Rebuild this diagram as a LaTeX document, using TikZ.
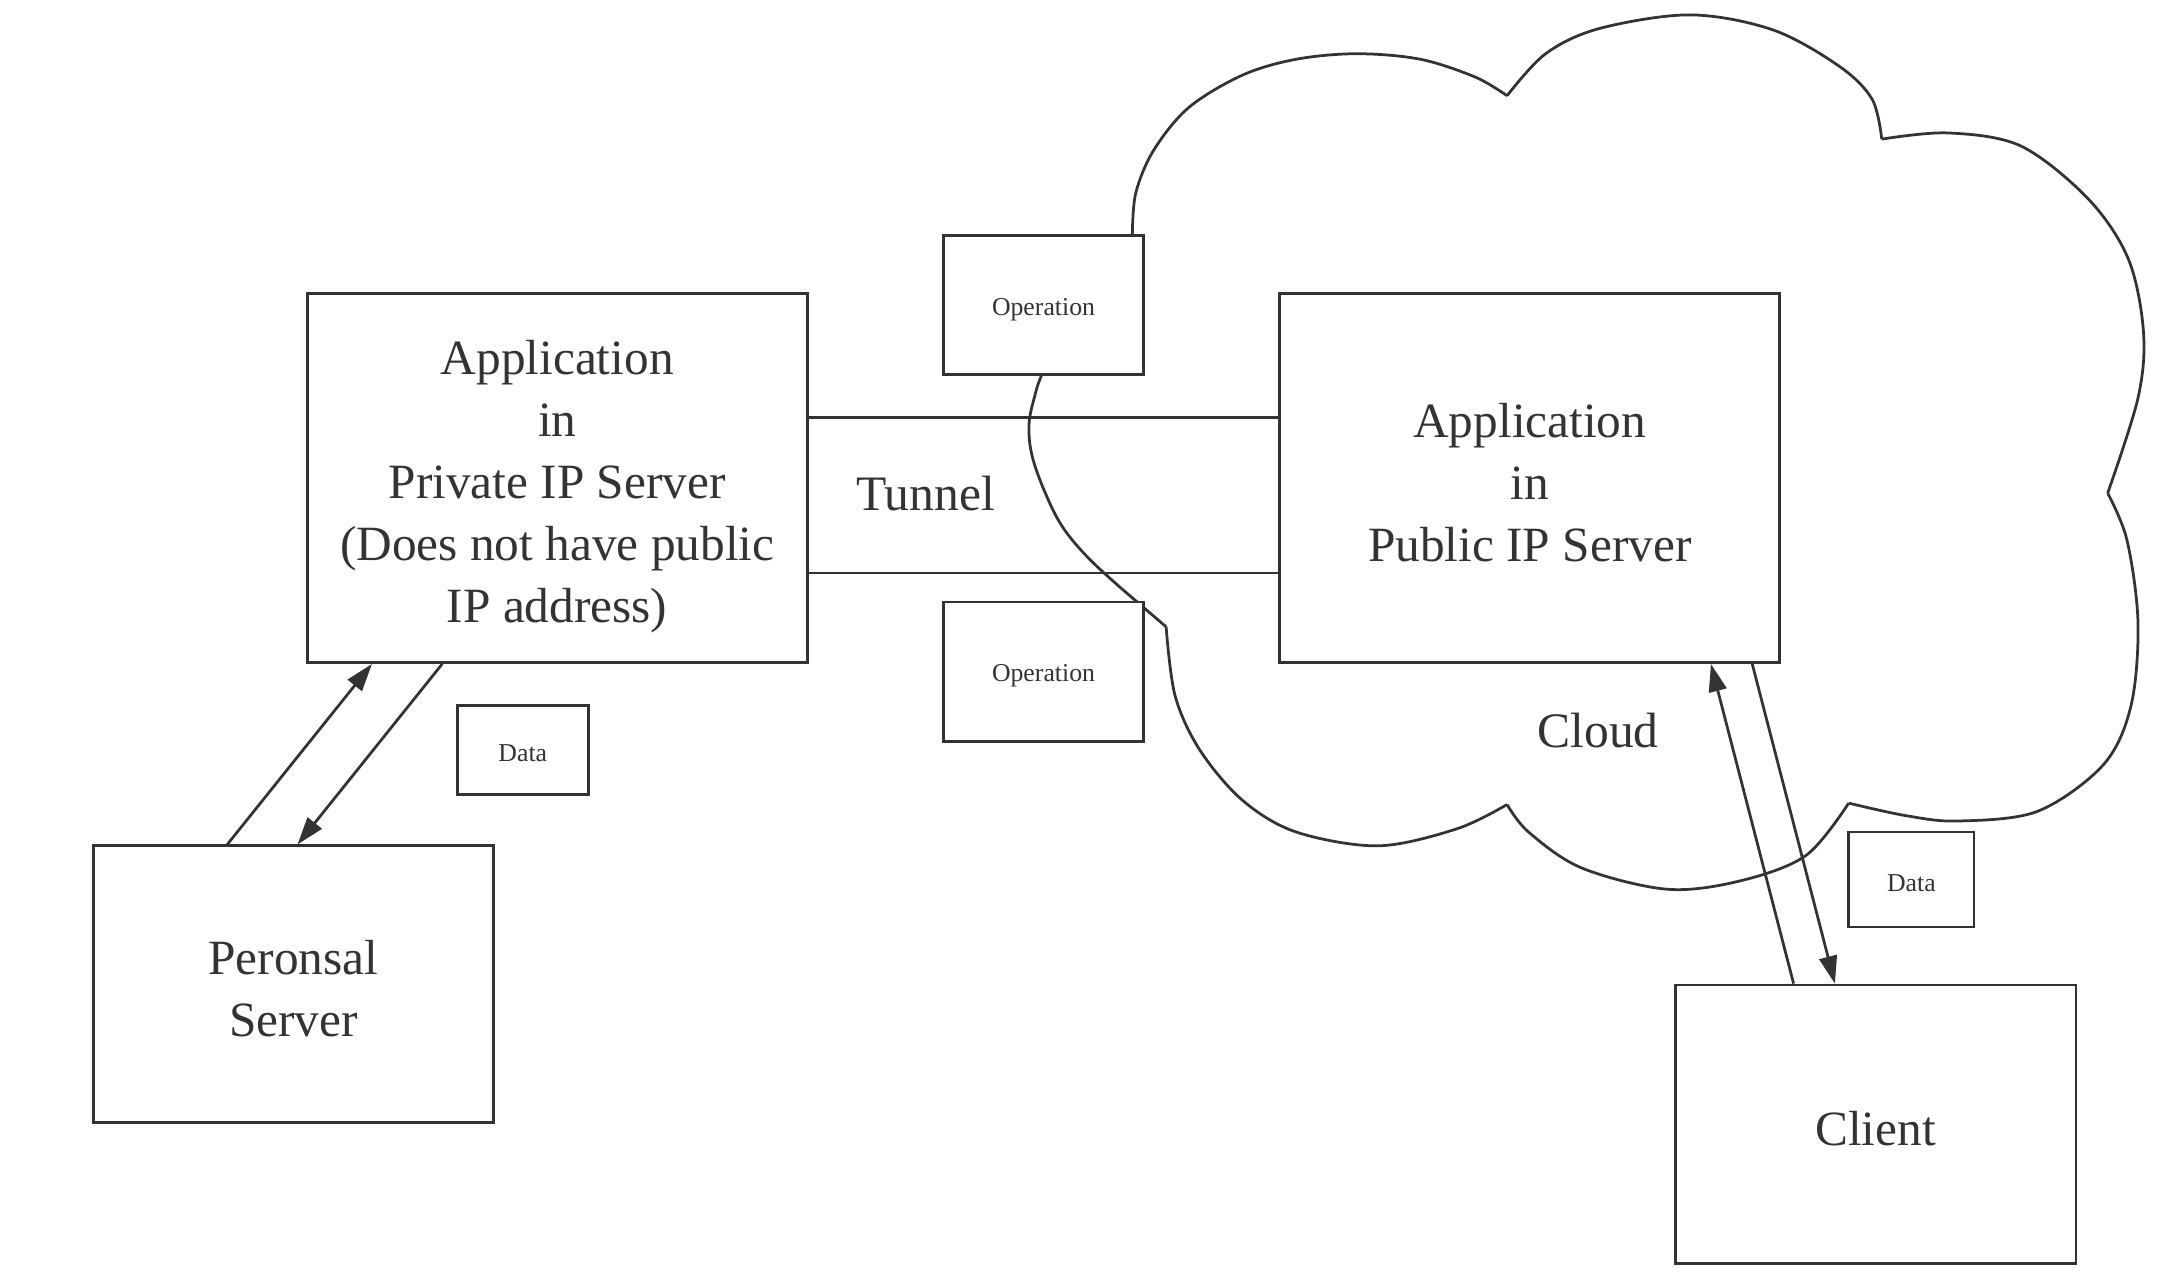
\documentclass[tikz,border=0pt]{standalone}
\usepackage{fontspec}
\setmainfont{Liberation Serif}
\usetikzlibrary{arrows.meta}
\definecolor{ink}{HTML}{333333}
\newcommand{\Sp}[1]{\rule{0pt}{#1}}
\begin{document}
\begin{tikzpicture}[x=1pt,y=-1pt,
  box/.style={draw=ink,line width=2pt,fill=white,align=center,inner sep=0pt,text=ink,font=\fontsize{35.8}{45}\selectfont},
  small/.style={box,font=\fontsize{18.7}{22}\selectfont},
  lbl/.style={text=ink,font=\fontsize{36}{45}\selectfont,inner sep=0pt},
  link/.style={draw=ink,line width=2pt},
  arr/.style={link,-{Triangle[length=20pt,width=13pt]}}]
\useasboundingbox[fill=white] (0,0) rectangle (1568,925);
% cloud
\begin{scope}[link,line join=round]
\draw plot[smooth,tension=0.55] coordinates {(822,170)(824.5,140)(837.5,109)(863,78)(902,54.5)(941,43)(985,39)(1031,43)(1071,56)(1094,69.5)};
\draw plot[smooth,tension=0.55] coordinates {(1094,69.5)(1122,39)(1161,20.7)(1227,10.8)(1287,21.7)(1335,48)(1359,72)(1366,101)};
\draw plot[smooth,tension=0.55] coordinates {(1366,101)(1414,96.5)(1467,106)(1516,144.5)(1545,188)(1556,241)(1552,289)(1530,358)};
\draw plot[smooth,tension=0.55] coordinates {(1530,358)(1544,392)(1552,451.5)(1547,512)(1527,555)(1479,589)(1421,596)(1383,592)(1342,583)};
\draw plot[smooth,tension=0.55] coordinates {(1342,583)(1311,621)(1263,639.5)(1210,645.5)(1148,630)(1109.6,604)(1094,584)};
\draw plot[smooth,tension=0.55] coordinates {(1094,584)(1058,601.5)(1000.7,614)(941,604)(902,581)(871,544.5)(853,505)(846.5,455)};
\draw (846.5,455) -- (815,428);
\draw plot[smooth,tension=0.6] coordinates {(815,428)(790,405)(771,382)(758,356)(749,330)(747,308)(751,288)(757,270)(780,215)(822,170)};
\end{scope}
% boxes
\node[box,minimum width=363pt,minimum height=268pt] (priv) at (404.5,347) {\Sp{37pt}Application\\in\\Private IP Server\\(Does not have public\\IP address)};
\node[box,minimum width=363pt,minimum height=268pt] (pub) at (1110.5,347) {\Sp{31pt}Application\\in\\Public IP Server};
\node[small,minimum width=145pt,minimum height=101pt] (opt) at (757.5,221.5) {\Sp{19pt}Operation};
\node[small,minimum width=145pt,minimum height=101pt] (opb) at (757.5,487.5) {\Sp{19pt}Operation};
\node[small,minimum width=95pt,minimum height=65pt] (datal) at (379.5,544.5) {\Sp{17pt}Data};
\node[small,minimum width=91pt,minimum height=69pt] (datar) at (1387.5,638.5) {\Sp{17pt}Data};
\node[box,minimum width=290pt,minimum height=201pt] (pers) at (213,714.5) {\Sp{31pt}Peronsal\\Server};
\node[box,minimum width=291pt,minimum height=202pt] (cli) at (1361.5,816) {\Sp{31pt}Client};
% tunnel
\draw[link] ([yshift=44pt]priv.east) -- ([yshift=44pt]pub.west);
\draw[link] ([yshift=-69pt]priv.east) -- ([yshift=-69pt]pub.west);
\node[lbl] (tun) at (672,358) {Tunnel};
\node[lbl] (cloudlbl) at (1160,530) {Cloud};
% arrows
\draw[arr] ([xshift=-48pt]pers.north) -- ([xshift=-134.5pt]priv.south);
\draw[arr] ([xshift=-83.5pt]priv.south) -- ([xshift=3pt]pers.north);
\draw[arr] ([xshift=-59.5pt]cli.north) -- ([xshift=131.5pt]pub.south);
\draw[arr] ([xshift=161.5pt]pub.south) -- ([xshift=-29.5pt]cli.north);
\end{tikzpicture}
\end{document}
